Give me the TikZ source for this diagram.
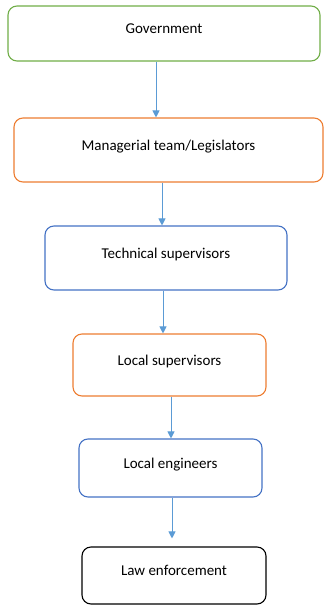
\documentclass[tikz,border=0pt]{standalone}
\usepackage{fontspec}
\setmainfont{Carlito}
\usetikzlibrary{
    arrows.meta,
    calc,
}
\definecolor{govgreen}{HTML}{70AD47}
\definecolor{mgrorange}{HTML}{ED7D31}
\definecolor{techblue}{HTML}{4472C4}
\definecolor{arrowblue}{HTML}{5B9BD5}

\begin{document}
\begin{tikzpicture}[x=1pt, y=-1pt,
    box/.style = {draw, rounded corners=9pt, line width=1.1pt, inner sep=0pt,
        text height=8pt, text depth=8pt, font=\fontsize{15}{18}\selectfont},
    link/.style = {draw=arrowblue, line width=1pt, -{Triangle[width=7pt,length=7pt]}}]
    \useasboundingbox (0,0) rectangle (324,605);
    \node[box, draw=govgreen,   minimum width=312pt, minimum height=55pt] (gov)  at (164,33.5)  {Government};
    \node[box, draw=mgrorange,  minimum width=309pt, minimum height=64pt] (mgr)  at (168.5,150) {Managerial team/Legislators};
    \node[box, draw=techblue,   minimum width=242pt, minimum height=64pt] (tech) at (166,258)   {Technical supervisors};
    \node[box, draw=mgrorange,  minimum width=193pt, minimum height=62pt] (lsup) at (169.5,365) {Local supervisors};
    \node[box, draw=techblue,   minimum width=183pt, minimum height=58pt] (leng) at (170.5,468) {Local engineers};
    \node[box, draw=black,      minimum width=184pt, minimum height=57pt] (law)  at (174,575.5) {Law enforcement};
    \draw[link] ([xshift=-8pt]gov.south)   -- ([xshift=-8pt]gov.south |- mgr.north);
    \draw[link] ([xshift=-6.5pt]mgr.south) -- ([xshift=-6.5pt]mgr.south |- tech.north);
    \draw[link] ([xshift=-3pt]tech.south)  -- ([xshift=-3pt]tech.south |- lsup.north);
    \draw[link] ([xshift=1.5pt]lsup.south) -- ([xshift=1.5pt]lsup.south |- leng.north);
    \draw[link, shorten >=8pt] ([xshift=1.5pt]leng.south) -- ([xshift=1.5pt]leng.south |- law.north);
\end{tikzpicture}
\end{document}
